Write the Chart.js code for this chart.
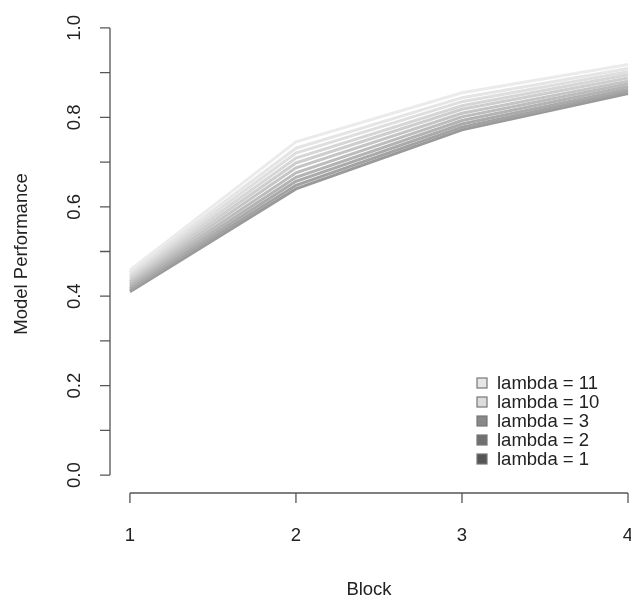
<!DOCTYPE html>
<html>
<head>
<meta charset="utf-8">
<script src="https://cdn.jsdelivr.net/npm/chart.js@4/dist/chart.umd.min.js"></script>
<style>
html,body{margin:0;padding:0;background:#fff;}
#wrap{width:631px;height:600px;position:relative;}
</style>
</head>
<body>
<div id="wrap"><canvas id="c" width="631" height="600"></canvas></div>
<script>
// ---- data ----
const blocks = [1, 2, 3, 4];
const lambdas = [1, 2, 3, 4, 5, 6, 7, 8, 9, 10, 11];
const perf1  = [0.410, 0.640, 0.772, 0.853];
const perf2  = [0.414, 0.648, 0.778, 0.858];
const perf3  = [0.418, 0.657, 0.785, 0.863];
const perf4  = [0.423, 0.666, 0.793, 0.869];
const perf5  = [0.428, 0.676, 0.801, 0.875];
const perf6  = [0.433, 0.687, 0.809, 0.881];
const perf7  = [0.438, 0.698, 0.818, 0.888];
const perf8  = [0.443, 0.709, 0.826, 0.895];
const perf9  = [0.448, 0.720, 0.835, 0.902];
const perf10 = [0.453, 0.731, 0.844, 0.909];
const perf11 = [0.458, 0.745, 0.855, 0.918];
const seriesValues = [perf1, perf2, perf3, perf4, perf5, perf6, perf7, perf8, perf9, perf10, perf11];
const lineColors = ['#9a9a9a','#a2a2a2','#aaaaaa','#b3b3b3','#bcbcbc','#c5c5c5','#cecece','#d6d6d6','#dedede','#e5e5e5','#ebebeb'];
const yTicks = [0, 0.1, 0.2, 0.3, 0.4, 0.5, 0.6, 0.7, 0.8, 0.9, 1.0];
const yTickLabels = ['0.0', '', '0.2', '', '0.4', '', '0.6', '', '0.8', '', '1.0'];
const xTicks = [1, 2, 3, 4];
const xTickLabels = ['1', '2', '3', '4'];
const legendLabels = ['lambda = 11', 'lambda = 10', 'lambda = 3', 'lambda = 2', 'lambda = 1'];
const legendFills = ['#e6e6e6', '#dcdcdc', '#888888', '#707070', '#555555'];

const FONT = '18.5px "Liberation Sans", Arial, sans-serif';
const TXT = '#222';

const datasets = lambdas.map((l, i) => ({
  label: 'lambda = ' + l,
  data: blocks.map((b, j) => ({x: b, y: seriesValues[i][j]})),
  borderColor: lineColors[i],
  borderWidth: 3,
  pointRadius: 0,
  tension: 0,
  fill: false
})).reverse();

const axesPlugin = {
  id: 'rAxes',
  afterDraw(chart) {
    const ctx = chart.ctx;
    const xs = chart.scales.x, ys = chart.scales.y;
    const ca = chart.chartArea;
    ctx.save();
    ctx.strokeStyle = '#555';
    ctx.lineWidth = 1.3;
    ctx.fillStyle = TXT;
    ctx.font = FONT;
    const tl = 10;
    // y axis
    const yx = ca.left;
    ctx.beginPath();
    ctx.moveTo(yx, ys.getPixelForValue(yTicks[0]));
    ctx.lineTo(yx, ys.getPixelForValue(yTicks[yTicks.length - 1]));
    yTicks.forEach(v => {
      const p = ys.getPixelForValue(v);
      ctx.moveTo(yx, p);
      ctx.lineTo(yx - tl, p);
    });
    ctx.stroke();
    ctx.textAlign = 'center';
    ctx.textBaseline = 'middle';
    yTicks.forEach((v, i) => {
      if (!yTickLabels[i]) return;
      const p = ys.getPixelForValue(v);
      ctx.save();
      ctx.translate(75, p);
      ctx.rotate(-Math.PI / 2);
      ctx.fillText(yTickLabels[i], 0, 0);
      ctx.restore();
    });
    // x axis
    const xy = ca.bottom;
    ctx.beginPath();
    ctx.moveTo(xs.getPixelForValue(xTicks[0]), xy);
    ctx.lineTo(xs.getPixelForValue(xTicks[xTicks.length - 1]), xy);
    xTicks.forEach(v => {
      const p = xs.getPixelForValue(v);
      ctx.moveTo(p, xy);
      ctx.lineTo(p, xy + tl);
    });
    ctx.stroke();
    xTicks.forEach((v, i) => {
      ctx.fillText(xTickLabels[i], xs.getPixelForValue(v), 536);
    });
    // titles
    ctx.fillText('Block', 369, 590);
    ctx.save();
    ctx.translate(22, 254);
    ctx.rotate(-Math.PI / 2);
    ctx.fillText('Model Performance', 0, 0);
    ctx.restore();
    // legend
    ctx.textAlign = 'left';
    legendLabels.forEach((lab, i) => {
      const cy = 383 + i * 19;
      ctx.fillStyle = legendFills[i];
      ctx.fillRect(477, cy - 5, 10, 10);
      ctx.strokeStyle = '#777';
      ctx.lineWidth = 1.2;
      ctx.strokeRect(477, cy - 5, 10, 10);
      ctx.fillStyle = TXT;
      ctx.fillText(lab, 497, cy + 1);
    });
    ctx.restore();
  }
};

new Chart(document.getElementById('c'), {
  type: 'line',
  data: { datasets },
  options: {
    responsive: false,
    animation: false,
    devicePixelRatio: 1,
    layout: { padding: { left: 110, right: 1, top: 10, bottom: 107 } },
    plugins: { legend: { display: false }, tooltip: { enabled: false } },
    scales: {
      x: { type: 'linear', min: 0.88, max: 4.012, display: false },
      y: { type: 'linear', min: -0.04, max: 1.04, display: false }
    }
  },
  plugins: [axesPlugin]
});
</script>
</body>
</html>
